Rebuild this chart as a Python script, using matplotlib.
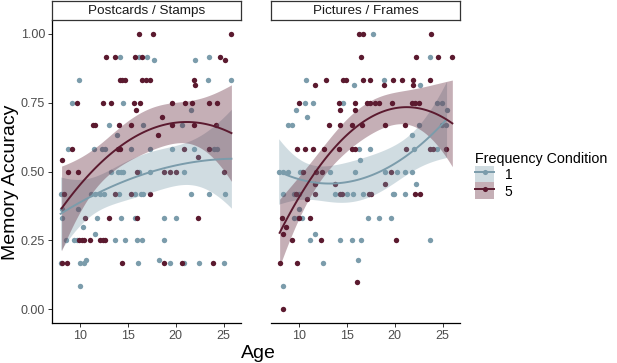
import numpy as np
import matplotlib
matplotlib.use('Agg')
import matplotlib.pyplot as plt
from matplotlib.patches import Patch
from matplotlib.lines import Line2D

plt.rcParams['font.family'] = ['Liberation Sans', 'DejaVu Sans']

blue = '#7B9CAB'
maroon = '#5B1A2F'

panel_titles = ['Postcards / Stamps', 'Pictures / Frames']
cond_labels = ['1', '5']

# Postcards / Stamps, frequency 1
ps_age_1 = [14.2, 16.2, 17.0, 17.7, 22.0, 23.5,
            9.9, 23.4, 25.8,
            9.2, 14.5, 21.6,
            13.0, 16.6, 20.6, 13.9,
            8.8, 11.5, 12.3, 12.6, 15.3, 17.3, 19.6, 21.9, 24.0, 24.3,
            13.2, 14.0, 14.3, 14.5, 16.2, 17.3, 20.9,
            8.0, 11.2, 11.6, 12.1, 12.5, 14.1, 15.7, 16.4, 16.6, 21.6, 23.5, 25.1,
            8.1, 9.8,
            8.1, 11.8, 14.3, 15.7, 18.8, 20.0,
            10.3, 11.6,
            8.6, 9.4, 9.7, 13.7, 14.7, 16.0, 16.5, 18.8,
            10.6, 18.3,
            8.0, 10.0, 10.4, 16.1, 19.4, 20.9, 22.4, 25.0,
            10.0]
ps_acc_1 = [0.917, 0.917, 0.917, 0.905, 0.905, 0.917,
            0.833, 0.833, 0.833,
            0.75, 0.75, 0.725,
            0.667, 0.667, 0.667, 0.633,
            0.583, 0.583, 0.583, 0.583, 0.583, 0.583, 0.583, 0.583, 0.583, 0.583,
            0.5, 0.5, 0.5, 0.5, 0.5, 0.5, 0.5,
            0.417, 0.417, 0.417, 0.417, 0.417, 0.417, 0.417, 0.417, 0.417, 0.417, 0.417, 0.417,
            0.365, 0.365,
            0.333, 0.333, 0.333, 0.333, 0.333, 0.333,
            0.298, 0.273,
            0.25, 0.25, 0.25, 0.25, 0.25, 0.25, 0.25, 0.25,
            0.18, 0.18,
            0.167, 0.167, 0.167, 0.167, 0.167, 0.167, 0.167, 0.167,
            0.083]

# Postcards / Stamps, frequency 5
ps_age_5 = [16.2, 17.6, 25.8,
            12.7, 13.7, 15.7, 16.5, 24.6, 25.1,
            14.2, 14.4, 14.7, 16.5, 16.9, 17.3, 21.9, 22.0,
            9.7, 12.4, 13.2, 15.6, 16.3, 19.6, 21.0, 21.7, 23.5, 24.3, 15.9,
            18.6,
            11.4, 11.6, 14.1, 15.3, 19.6, 21.9, 24.2,
            18.2,
            9.2, 14.0, 14.2, 20.9, 23.5,
            22.3, 8.1,
            8.8, 9.8, 16.0, 18.8, 19.4, 20.0, 25.0,
            8.3, 13.7, 15.3, 17.3,
            10.5, 13.0, 16.0, 22.3,
            9.9, 10.2, 10.4, 11.1, 12.1, 12.4, 12.6,
            8.1, 8.7, 14.4, 18.8, 20.6, 23.9]
ps_acc_5 = [1.0, 1.0, 1.0,
            0.917, 0.917, 0.917, 0.917, 0.917, 0.905,
            0.833, 0.833, 0.833, 0.833, 0.833, 0.833, 0.833, 0.815,
            0.75, 0.75, 0.75, 0.75, 0.75, 0.75, 0.75, 0.75, 0.75, 0.75, 0.725,
            0.697,
            0.667, 0.667, 0.667, 0.667, 0.667, 0.667, 0.667,
            0.633,
            0.583, 0.583, 0.583, 0.583, 0.583,
            0.554, 0.542,
            0.5, 0.5, 0.5, 0.5, 0.5, 0.5, 0.5,
            0.417, 0.417, 0.417, 0.417,
            0.333, 0.333, 0.333, 0.333,
            0.25, 0.25, 0.25, 0.25, 0.25, 0.25, 0.25,
            0.167, 0.167, 0.167, 0.167, 0.167, 0.167]

# Pictures / Frames, frequency 1
pf_age_1 = [17.7,
            23.7,
            10.7, 18.9, 15.7, 22.6,
            10.6, 11.5, 14.6, 24.4, 24.9, 9.7, 25.4, 10.9,
            8.9, 9.3, 22.5, 24.9, 25.3, 21.8,
            16.3, 17.4, 22.0, 24.4, 16.4,
            7.9, 8.4, 8.9, 10.1, 10.3, 13.3, 15.9, 19.0, 20.2, 21.1, 21.8,
            22.2,
            8.3, 9.5, 10.0, 13.8, 15.0, 15.6, 16.7, 19.8, 19.9, 21.1,
            10.0,
            9.5, 9.9, 10.3, 17.2, 18.4, 19.6,
            11.7,
            11.2, 14.3, 15.5, 16.5, 23.7,
            16.2,
            12.5,
            8.3]
pf_acc_1 = [1.0,
            0.917,
            0.833, 0.833, 0.815, 0.815,
            0.75, 0.75, 0.75, 0.75, 0.75, 0.725, 0.725, 0.697,
            0.667, 0.667, 0.667, 0.667, 0.667, 0.633,
            0.583, 0.583, 0.583, 0.583, 0.542,
            0.5, 0.5, 0.5, 0.5, 0.5, 0.5, 0.5, 0.5, 0.5, 0.5, 0.5,
            0.453,
            0.417, 0.417, 0.417, 0.417, 0.417, 0.417, 0.417, 0.417, 0.417, 0.417,
            0.365,
            0.333, 0.333, 0.333, 0.333, 0.333, 0.333,
            0.273,
            0.25, 0.25, 0.25, 0.25, 0.25,
            0.18,
            0.167,
            0.083]

# Pictures / Frames, frequency 5
pf_age_5 = [16.3, 16.7, 23.8,
            16.5, 22.2, 24.5, 26.0,
            12.8, 14.6, 14.9, 16.7, 17.4, 19.8, 20.8, 21.9, 23.7, 11.7, 18.9, 21.9,
            10.0, 14.2, 15.9, 17.1, 17.4, 17.9, 18.4, 19.7, 21.8, 22.1, 22.5, 14.3, 15.9,
            13.1, 14.3, 15.5, 16.6, 19.0, 21.1,
            9.8, 10.6, 11.5, 12.6, 14.2, 15.5, 15.9, 21.2, 23.7, 24.0, 25.3,
            10.4, 11.8, 12.4, 19.6,
            11.7, 13.8, 19.0,
            9.7, 11.7, 14.3, 14.5, 17.3, 17.5, 22.1, 22.6,
            10.9,
            8.2, 10.0, 11.2,
            8.7, 8.4,
            9.3, 12.3, 20.1,
            8.0, 9.8,
            16.1,
            8.3]
pf_acc_5 = [1.0, 1.0, 1.0,
            0.917, 0.917, 0.917, 0.917,
            0.833, 0.833, 0.833, 0.833, 0.833, 0.833, 0.833, 0.833, 0.833, 0.815, 0.815, 0.815,
            0.75, 0.75, 0.75, 0.75, 0.75, 0.75, 0.75, 0.75, 0.75, 0.75, 0.75, 0.725, 0.725,
            0.667, 0.667, 0.667, 0.667, 0.667, 0.667,
            0.583, 0.583, 0.583, 0.583, 0.583, 0.583, 0.583, 0.583, 0.583, 0.583, 0.583,
            0.5, 0.5, 0.5, 0.5,
            0.453, 0.453, 0.453,
            0.417, 0.417, 0.417, 0.417, 0.417, 0.417, 0.417, 0.417,
            0.40,
            0.333, 0.333, 0.333,
            0.298, 0.272,
            0.25, 0.25, 0.25,
            0.167, 0.167,
            0.10,
            0.0]

x_ticks = [10, 15, 20, 25]
y_ticks = [0.0, 0.25, 0.5, 0.75, 1.0]


def poly_fit(age, acc, deg=2):
    # lm(y ~ poly(x, 2)) with 95% confidence band
    x = np.asarray(age, float)
    y = np.asarray(acc, float)
    X = np.vander(x, deg + 1, increasing=True)
    beta, *_ = np.linalg.lstsq(X, y, rcond=None)
    resid = y - X @ beta
    s2 = resid @ resid / (len(x) - deg - 1)
    cov = s2 * np.linalg.inv(X.T @ X)
    xs = np.linspace(x.min(), x.max(), 80)
    Xs = np.vander(xs, deg + 1, increasing=True)
    fit = Xs @ beta
    se = np.sqrt(np.einsum('ij,jk,ik->i', Xs, cov, Xs))
    return xs, fit, fit - 1.98 * se, fit + 1.98 * se


fig = plt.figure(figsize=(6.17, 3.63), dpi=100)
W, H = 617, 363

panels = [(ps_age_1, ps_acc_1, ps_age_5, ps_acc_5),
          (pf_age_1, pf_acc_1, pf_age_5, pf_acc_5)]
lefts = [52, 271]
pw = 189

for i, (a1, y1, a5, y5) in enumerate(panels):
    ax = fig.add_axes([lefts[i] / W, 40 / H, pw / W, 303 / H])
    ax.scatter(a1, y1, s=15, color=blue, linewidths=0, zorder=2)
    ax.scatter(a5, y5, s=15, color=maroon, linewidths=0, zorder=2)
    for age, acc, col in [(a1, y1, blue), (a5, y5, maroon)]:
        xs, fit, lo, hi = poly_fit(age, acc)
        ax.fill_between(xs, lo, hi, color=col, alpha=0.35, linewidth=0, zorder=3)
        ax.plot(xs, fit, color=col, lw=1.4, zorder=4)
    ax.set_xlim(7.1, 26.8)
    ax.set_ylim(-0.05, 1.05)
    ax.set_xticks(x_ticks)
    ax.set_yticks(y_ticks)
    ax.set_yticklabels(['%.2f' % v for v in y_ticks])
    for s in ['top', 'right']:
        ax.spines[s].set_visible(False)
    ax.spines['bottom'].set_linewidth(0.9)
    ax.spines['left'].set_linewidth(0.9)
    ax.tick_params(length=3, width=0.7, color='#333333', labelsize=9,
                   labelcolor='#4D4D4D', pad=2)
    if i == 1:
        ax.spines['left'].set_visible(False)
        ax.tick_params(axis='y', left=False, labelleft=False)

    sax = fig.add_axes([lefts[i] / W, 343 / H, pw / W, 19 / H])
    sax.set_xticks([])
    sax.set_yticks([])
    for s in sax.spines.values():
        s.set_color('#333333')
        s.set_linewidth(0.9)
    sax.text(0.5, 0.45, panel_titles[i], ha='center', va='center',
             fontsize=9.7, color='#1A1A1A', transform=sax.transAxes)

fig.text(11 / W, 181 / H, 'Memory Accuracy', rotation=90, ha='center',
         va='center', fontsize=14)
fig.text(258 / W, 10 / H, 'Age', ha='center', va='center', fontsize=14)

handles = []
for col in [blue, maroon]:
    p = Patch(facecolor=col, alpha=0.35, edgecolor='none')
    l = Line2D([], [], color=col, lw=1.4, marker='o', markersize=3.7,
               markeredgewidth=0)
    handles.append((p, l))
leg = fig.legend(handles, cond_labels, title='Frequency Condition',
                 loc='upper left', bbox_to_anchor=(463 / W, 1 - 139 / H),
                 frameon=False, fontsize=10, title_fontsize=10.3,
                 handlelength=1.3, handleheight=1.5, handletextpad=0.8,
                 labelspacing=0.0, alignment='left')

fig.savefig('out.png', dpi=100)
